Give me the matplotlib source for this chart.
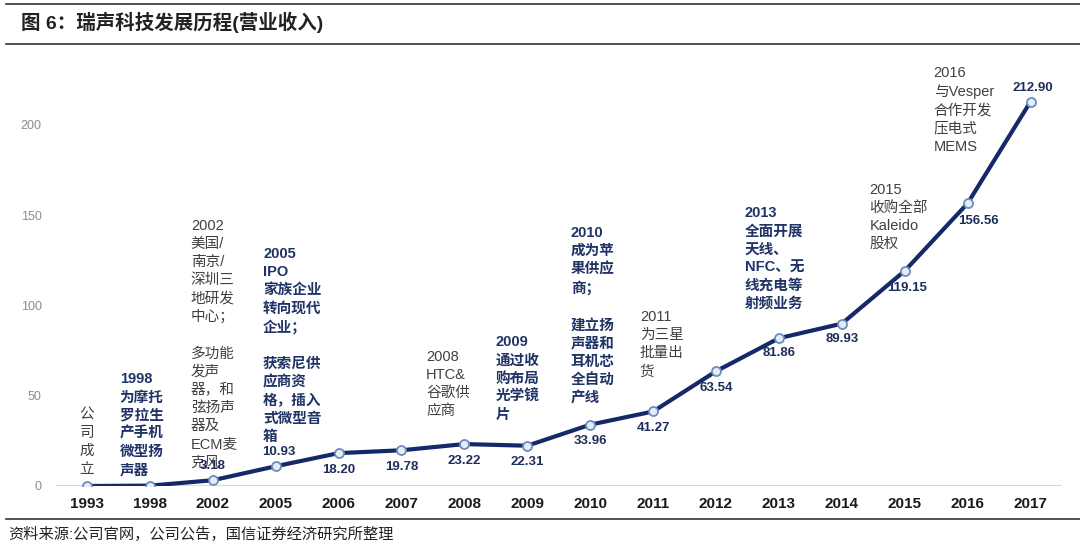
import matplotlib
matplotlib.use('Agg')
import matplotlib.pyplot as plt
from matplotlib.lines import Line2D

plt.rcParams['font.family'] = ['Liberation Sans', 'Noto Sans CJK SC']

# data
years = ['1993', '1998', '2002', '2005', '2006', '2007', '2008', '2009',
         '2010', '2011', '2012', '2013', '2014', '2015', '2016', '2017']
revenue = [0.0, 0.2, 3.18, 10.93, 18.20, 19.78, 23.22, 22.31,
           33.96, 41.27, 63.54, 81.86, 89.93, 119.15, 156.56, 212.90]
value_labels = ['', '', '3.18', '10.93', '18.20', '19.78', '23.22', '22.31',
                '33.96', '41.27', '63.54', '81.86', '89.93', '119.15', '156.56', '212.90']

events = [
    '公\n司\n成\n立',
    '1998\n为摩托\n罗拉生\n产手机\n微型扬\n声器',
    '2002\n美国/\n南京/\n深圳三\n地研发\n中心；\n\n多功能\n发声\n器，和\n弦扬声\n器及\nECM麦\n克风',
    '2005\nIPO\n家族企业\n转向现代\n企业；\n\n获索尼供\n应商资\n格，插入\n式微型音\n箱',
    '2008\nHTC&\n谷歌供\n应商',
    '2009\n通过收\n购布局\n光学镜\n片',
    '2010\n成为苹\n果供应\n商；\n\n建立扬\n声器和\n耳机芯\n全自动\n产线',
    '2011\n为三星\n批量出\n货',
    '2013\n全面开展\n天线、\nNFC、无\n线充电等\n射频业务',
    '2015\n收购全部\nKaleido\n股权',
    '2016\n与Vesper\n合作开发\n压电式\nMEMS',
]

# layout / styling (x index, top y in data units, halign, colour, bold)
GRAY = '#404040'
NAVY = '#1F3366'
event_pos = [
    (0.0, 43.5, 'center', GRAY, False),
    (0.52, 63.0, 'left', NAVY, True),
    (1.65, 148.0, 'left', GRAY, False),
    (2.80, 132.5, 'left', NAVY, True),
    (5.39, 75.5, 'left', GRAY, False),
    (6.50, 83.5, 'left', NAVY, True),
    (7.69, 144.0, 'left', NAVY, True),
    (8.79, 97.5, 'left', GRAY, False),
    (10.46, 155.0, 'left', NAVY, True),
    (12.44, 168.0, 'left', GRAY, False),
    (13.46, 232.5, 'left', GRAY, False),
]
label_offsets = [(0, 0), (0, 0), (0, 10), (2, 10), (0, -12), (0, -12), (0, -12),
                 (0, -12), (0, -12), (0, -12), (0, -12), (0, -11), (0, -11),
                 (2, -12), (8, -13), (2, 10)]

fig = plt.figure(figsize=(10.8, 5.46), dpi=100)
ax = fig.add_axes([0.0514, 0.1099, 0.9319, 0.777])

x = list(range(len(years)))
ax.plot(x, revenue, color='#15296A', lw=3, marker='o', ms=6.5,
        mfc='#E4ECF6', mec='#6E8DBE', mew=1.3, zorder=3)

for i, (lab, off) in enumerate(zip(value_labels, label_offsets)):
    if not lab:
        continue
    ax.annotate(lab, (x[i], revenue[i]), xytext=off, textcoords='offset points',
                ha='center', va='center', fontsize=9.5, fontweight='bold',
                color='#1F2D5A', zorder=4)

for txt, (xi, yt, ha, col, bold) in zip(events, event_pos):
    ax.text(xi, yt, txt, ha=ha, va='top', fontsize=10.5, color=col,
            fontweight='bold' if bold else 'normal', linespacing=1.38,
            zorder=2)

ax.set_xlim(-0.5, len(years) - 0.5)
ax.set_ylim(0, 235)
ax.set_xticks(x)
ax.set_xticklabels(years, fontsize=11, fontweight='bold', color='#1a1a1a')
ax.set_yticks([0, 50, 100, 150, 200])
ax.tick_params(axis='y', labelsize=9, labelcolor='#8c8c8c', length=0, pad=10)
ax.tick_params(axis='x', length=0, pad=8)
for s in ax.spines.values():
    s.set_visible(False)
ax.axhline(0, color='#d9d9d9', lw=1.5, zorder=1)

# header / footer
fig.text(0.019, 1 - 22 / 546, '图 6：瑞声科技发展历程(营业收入)', fontsize=14,
         fontweight='bold', color='#222222', va='center', ha='left')
fig.add_artist(Line2D([0.006, 1.0], [1 - 4 / 546, 1 - 4 / 546], color='#333333', lw=1.2))
fig.add_artist(Line2D([0.006, 1.0], [1 - 44 / 546, 1 - 44 / 546], color='#333333', lw=1.2))
fig.add_artist(Line2D([0.006, 1.0], [1 - 519 / 546, 1 - 519 / 546], color='#333333', lw=1.2))
fig.text(0.008, 1 - 534 / 546, '资料来源:公司官网，公司公告，国信证券经济研究所整理',
         fontsize=11, color='#222222', va='center', ha='left')

fig.savefig('out.png', dpi=100)
